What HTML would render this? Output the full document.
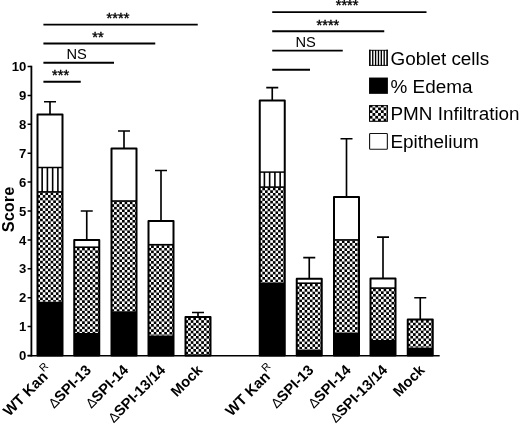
<!DOCTYPE html>
<html lang="en">
<head>
<meta charset="utf-8">
<title>Score chart</title>
<style>
html,body{margin:0;padding:0;background:#fff;}
body{width:520px;height:425px;overflow:hidden;}
svg{display:block;font-family:"Liberation Sans",sans-serif;fill:#000;}
.b{font-weight:bold;}
</style>
</head>
<body>
<svg width="520" height="425" viewBox="0 0 520 425">
<defs>
<pattern id="chk" patternUnits="userSpaceOnUse" x="0" y="0.6" width="5.25" height="5.25">
<rect x="0" y="0" width="5.25" height="5.25" fill="#000"/>
<rect x="0" y="0" width="2.625" height="2.625" fill="#fff"/>
<rect x="2.625" y="2.625" width="2.625" height="2.625" fill="#fff"/>
</pattern>
<pattern id="chk2" patternUnits="userSpaceOnUse" x="369.68" y="107.45" width="5.6" height="5.6">
<rect x="0" y="0" width="5.6" height="5.6" fill="#000"/>
<rect x="0" y="0" width="2.8" height="2.8" fill="#fff"/>
<rect x="2.8" y="2.8" width="2.8" height="2.8" fill="#fff"/>
</pattern>
</defs>
<rect x="0" y="0" width="520" height="425" fill="#fff"/>

<g>
<path d="M50.00 114.50V101.75M44.00 101.75H56.00" stroke="#000" stroke-width="1.65" fill="none"/>
<rect x="37.50" y="114.50" width="25.00" height="241.00" fill="#fff"/>
<rect transform="translate(37.50 191.90)" x="0" y="0" width="25.00" height="109.85" fill="url(#chk)"/>
<rect x="37.50" y="301.75" width="25.00" height="53.75" fill="#000"/>
<path d="M42.15 167.50V191.90M47.40 167.50V191.90M52.65 167.50V191.90M57.90 167.50V191.90" stroke="#000" stroke-width="1.6" fill="none"/>
<path d="M37.50 167.50H62.50" stroke="#000" stroke-width="1.5" fill="none"/>
<path d="M37.50 191.90H62.50" stroke="#000" stroke-width="1.6" fill="none"/>
<rect x="37.50" y="114.50" width="25.00" height="241.00" fill="none" stroke="#000" stroke-width="2.0" stroke-linejoin="round"/>
</g>
<g>
<path d="M86.75 240.00V211.00M80.75 211.00H92.75" stroke="#000" stroke-width="1.65" fill="none"/>
<rect x="74.25" y="240.00" width="25.00" height="115.50" fill="#fff"/>
<rect transform="translate(74.25 247.20)" x="0" y="0" width="25.00" height="85.80" fill="url(#chk)"/>
<rect x="74.25" y="333.00" width="25.00" height="22.50" fill="#000"/>
<path d="M74.25 247.20H99.25" stroke="#000" stroke-width="1.6" fill="none"/>
<rect x="74.25" y="240.00" width="25.00" height="115.50" fill="none" stroke="#000" stroke-width="2.0" stroke-linejoin="round"/>
</g>
<g>
<path d="M124.00 148.60V131.00M118.00 131.00H130.00" stroke="#000" stroke-width="1.65" fill="none"/>
<rect x="111.50" y="148.60" width="25.00" height="206.90" fill="#fff"/>
<rect transform="translate(111.50 201.00)" x="0" y="0" width="25.00" height="110.25" fill="url(#chk)"/>
<rect x="111.50" y="311.25" width="25.00" height="44.25" fill="#000"/>
<path d="M111.50 201.00H136.50" stroke="#000" stroke-width="1.6" fill="none"/>
<rect x="111.50" y="148.60" width="25.00" height="206.90" fill="none" stroke="#000" stroke-width="2.0" stroke-linejoin="round"/>
</g>
<g>
<path d="M161.00 220.90V170.50M155.00 170.50H167.00" stroke="#000" stroke-width="1.65" fill="none"/>
<rect x="148.50" y="220.90" width="25.00" height="134.60" fill="#fff"/>
<rect transform="translate(148.50 244.70)" x="0" y="0" width="25.00" height="90.80" fill="url(#chk)"/>
<rect x="148.50" y="335.50" width="25.00" height="20.00" fill="#000"/>
<path d="M148.50 244.70H173.50" stroke="#000" stroke-width="1.6" fill="none"/>
<rect x="148.50" y="220.90" width="25.00" height="134.60" fill="none" stroke="#000" stroke-width="2.0" stroke-linejoin="round"/>
</g>
<g>
<path d="M198.00 317.00V312.50M192.00 312.50H204.00" stroke="#000" stroke-width="1.65" fill="none"/>
<rect x="185.50" y="317.00" width="25.00" height="38.50" fill="#fff"/>
<rect transform="translate(185.50 317.00)" x="0" y="0" width="25.00" height="38.50" fill="url(#chk)"/>
<rect x="185.50" y="317.00" width="25.00" height="38.50" fill="none" stroke="#000" stroke-width="2.0" stroke-linejoin="round"/>
</g>
<g>
<path d="M272.25 100.40V87.60M266.25 87.60H278.25" stroke="#000" stroke-width="1.65" fill="none"/>
<rect x="259.75" y="100.40" width="25.00" height="255.10" fill="#fff"/>
<rect transform="translate(259.75 187.10)" x="0" y="0" width="25.00" height="95.40" fill="url(#chk)"/>
<rect x="259.75" y="282.50" width="25.00" height="73.00" fill="#000"/>
<path d="M264.40 172.10V187.10M269.65 172.10V187.10M274.90 172.10V187.10M280.15 172.10V187.10" stroke="#000" stroke-width="1.6" fill="none"/>
<path d="M259.75 172.10H284.75" stroke="#000" stroke-width="1.5" fill="none"/>
<path d="M259.75 187.10H284.75" stroke="#000" stroke-width="1.6" fill="none"/>
<rect x="259.75" y="100.40" width="25.00" height="255.10" fill="none" stroke="#000" stroke-width="2.0" stroke-linejoin="round"/>
</g>
<g>
<path d="M309.25 278.65V257.65M303.25 257.65H315.25" stroke="#000" stroke-width="1.65" fill="none"/>
<rect x="296.75" y="278.65" width="25.00" height="76.85" fill="#fff"/>
<rect transform="translate(296.75 283.20)" x="0" y="0" width="25.00" height="66.80" fill="url(#chk)"/>
<rect x="296.75" y="350.00" width="25.00" height="5.50" fill="#000"/>
<path d="M296.75 283.20H321.75" stroke="#000" stroke-width="1.6" fill="none"/>
<rect x="296.75" y="278.65" width="25.00" height="76.85" fill="none" stroke="#000" stroke-width="2.0" stroke-linejoin="round"/>
</g>
<g>
<path d="M346.50 197.00V138.75M340.50 138.75H352.50" stroke="#000" stroke-width="1.65" fill="none"/>
<rect x="334.00" y="197.00" width="25.00" height="158.50" fill="#fff"/>
<rect transform="translate(334.00 239.90)" x="0" y="0" width="25.00" height="92.85" fill="url(#chk)"/>
<rect x="334.00" y="332.75" width="25.00" height="22.75" fill="#000"/>
<path d="M334.00 239.90H359.00" stroke="#000" stroke-width="1.6" fill="none"/>
<rect x="334.00" y="197.00" width="25.00" height="158.50" fill="none" stroke="#000" stroke-width="2.0" stroke-linejoin="round"/>
</g>
<g>
<path d="M383.00 278.60V237.10M377.00 237.10H389.00" stroke="#000" stroke-width="1.65" fill="none"/>
<rect x="370.50" y="278.60" width="25.00" height="76.90" fill="#fff"/>
<rect transform="translate(370.50 288.10)" x="0" y="0" width="25.00" height="51.90" fill="url(#chk)"/>
<rect x="370.50" y="340.00" width="25.00" height="15.50" fill="#000"/>
<path d="M370.50 288.10H395.50" stroke="#000" stroke-width="1.6" fill="none"/>
<rect x="370.50" y="278.60" width="25.00" height="76.90" fill="none" stroke="#000" stroke-width="2.0" stroke-linejoin="round"/>
</g>
<g>
<path d="M420.25 319.50V297.75M414.25 297.75H426.25" stroke="#000" stroke-width="1.65" fill="none"/>
<rect x="407.75" y="319.50" width="25.00" height="36.00" fill="#fff"/>
<rect transform="translate(407.75 319.50)" x="0" y="0" width="25.00" height="28.10" fill="url(#chk)"/>
<rect x="407.75" y="347.60" width="25.00" height="7.90" fill="#000"/>
<rect x="407.75" y="319.50" width="25.00" height="36.00" fill="none" stroke="#000" stroke-width="2.0" stroke-linejoin="round"/>
</g>
<path d="M31.4 65.8V356.5" stroke="#000" stroke-width="1.8" fill="none"/>
<path d="M27.6 355.75H439.7" stroke="#000" stroke-width="1.65" fill="none"/>
<path d="M27.6 355.50H31.4M27.6 326.60H31.4M27.6 297.70H31.4M27.6 268.80H31.4M27.6 239.90H31.4M27.6 211.00H31.4M27.6 182.10H31.4M27.6 153.20H31.4M27.6 124.30H31.4M27.6 95.40H31.4M27.6 66.50H31.4" stroke="#000" stroke-width="1.5" fill="none"/>
<text class="b" x="26.3" y="360.10" font-size="13.1" text-anchor="end">0</text>
<text class="b" x="26.3" y="331.20" font-size="13.1" text-anchor="end">1</text>
<text class="b" x="26.3" y="302.30" font-size="13.1" text-anchor="end">2</text>
<text class="b" x="26.3" y="273.40" font-size="13.1" text-anchor="end">3</text>
<text class="b" x="26.3" y="244.50" font-size="13.1" text-anchor="end">4</text>
<text class="b" x="26.3" y="215.60" font-size="13.1" text-anchor="end">5</text>
<text class="b" x="26.3" y="186.70" font-size="13.1" text-anchor="end">6</text>
<text class="b" x="26.3" y="157.80" font-size="13.1" text-anchor="end">7</text>
<text class="b" x="26.3" y="128.90" font-size="13.1" text-anchor="end">8</text>
<text class="b" x="26.3" y="100.00" font-size="13.1" text-anchor="end">9</text>
<text class="b" x="26.3" y="71.10" font-size="13.1" text-anchor="end">10</text>
<text class="b" transform="translate(14 209.5) rotate(-90)" font-size="16.4" text-anchor="middle">Score</text>
<text class="b" transform="translate(54.20 372.00) rotate(-45)" font-size="15" text-anchor="end">WT Kan<tspan font-weight="normal" font-size="10.67" dy="-7.5">R</tspan></text>
<text class="b" transform="translate(91.95 371.00) rotate(-45)" font-size="14.67" text-anchor="end"><tspan font-weight="normal" font-size="13.5">Δ</tspan>SPI-13</text>
<text class="b" transform="translate(129.20 371.00) rotate(-45)" font-size="14.67" text-anchor="end"><tspan font-weight="normal" font-size="13.5">Δ</tspan>SPI-14</text>
<text class="b" transform="translate(166.20 371.00) rotate(-45)" font-size="14.67" text-anchor="end"><tspan font-weight="normal" font-size="13.5">Δ</tspan>SPI-13/14</text>
<text class="b" transform="translate(203.20 371.00) rotate(-45)" font-size="14.67" text-anchor="end">Mock</text>
<text class="b" transform="translate(276.45 372.00) rotate(-45)" font-size="15" text-anchor="end">WT Kan<tspan font-weight="normal" font-size="10.67" dy="-7.5">R</tspan></text>
<text class="b" transform="translate(314.45 371.00) rotate(-45)" font-size="14.67" text-anchor="end"><tspan font-weight="normal" font-size="13.5">Δ</tspan>SPI-13</text>
<text class="b" transform="translate(351.70 371.00) rotate(-45)" font-size="14.67" text-anchor="end"><tspan font-weight="normal" font-size="13.5">Δ</tspan>SPI-14</text>
<text class="b" transform="translate(388.20 371.00) rotate(-45)" font-size="14.67" text-anchor="end"><tspan font-weight="normal" font-size="13.5">Δ</tspan>SPI-13/14</text>
<text class="b" transform="translate(425.45 371.00) rotate(-45)" font-size="14.67" text-anchor="end">Mock</text>
<path d="M43.4 24.6H197.75" stroke="#000" stroke-width="1.9" fill="none"/>
<path d="M43.4 43.5H155.25" stroke="#000" stroke-width="1.9" fill="none"/>
<path d="M43.4 62.75H114" stroke="#000" stroke-width="1.9" fill="none"/>
<path d="M43.4 81.7H80.75" stroke="#000" stroke-width="1.9" fill="none"/>
<path d="M272.2 12.1H426.5" stroke="#000" stroke-width="1.9" fill="none"/>
<path d="M272.2 31.2H384.25" stroke="#000" stroke-width="1.9" fill="none"/>
<path d="M272.2 50.65H342.75" stroke="#000" stroke-width="1.9" fill="none"/>
<path d="M272.2 69.8H310" stroke="#000" stroke-width="1.9" fill="none"/>
<text x="118" y="22.6" font-size="14.67" text-anchor="middle" stroke="#000" stroke-width="0.4">****</text>
<text x="98" y="41.6" font-size="14.67" text-anchor="middle" stroke="#000" stroke-width="0.4">**</text>
<text x="76.6" y="59.1" font-size="14.67" text-anchor="middle">NS</text>
<text x="60.6" y="79.8" font-size="14.67" text-anchor="middle" stroke="#000" stroke-width="0.4">***</text>
<text x="347.1" y="10.4" font-size="14.67" text-anchor="middle" stroke="#000" stroke-width="0.4">****</text>
<text x="327.9" y="29.6" font-size="14.67" text-anchor="middle" stroke="#000" stroke-width="0.4">****</text>
<text x="305.6" y="46.7" font-size="14.67" text-anchor="middle">NS</text>
<rect x="369.05" y="49.85" width="18.85" height="16" fill="#fff"/>
<path d="M372.74 50V65.8M375.60 50V65.8M378.46 50V65.8M381.32 50V65.8M384.18 50V65.8" stroke="#000" stroke-width="1.35" fill="none"/>
<path d="M369.85 49.85V65.85M387.10 49.85V65.85" stroke="#000" stroke-width="1.6" fill="none"/>
<path d="M369.05 50.3H387.90000000000003M369.05 65.4H387.90000000000003" stroke="#000" stroke-width="0.9" fill="none"/>
<rect x="369.05" y="77.55" width="18.85" height="16.3" fill="#000"/>
<rect x="369.05" y="105.15" width="18.85" height="16.6" fill="url(#chk2)"/>
<rect x="369.55" y="105.65" width="17.85" height="15.6" fill="none" stroke="#000" stroke-width="1"/>
<rect x="369.6" y="133.55" width="17.75" height="15.7" rx="0.8" fill="#fff" stroke="#111" stroke-width="1.1"/>
<text x="390.5" y="65.0" font-size="18.9">Goblet cells</text>
<text x="390.5" y="92.5" font-size="18.9">% Edema</text>
<text x="390.5" y="120.3" font-size="18.9">PMN Infiltration</text>
<text x="390.5" y="147.7" font-size="18.9">Epithelium</text>
</svg>
</body>
</html>
